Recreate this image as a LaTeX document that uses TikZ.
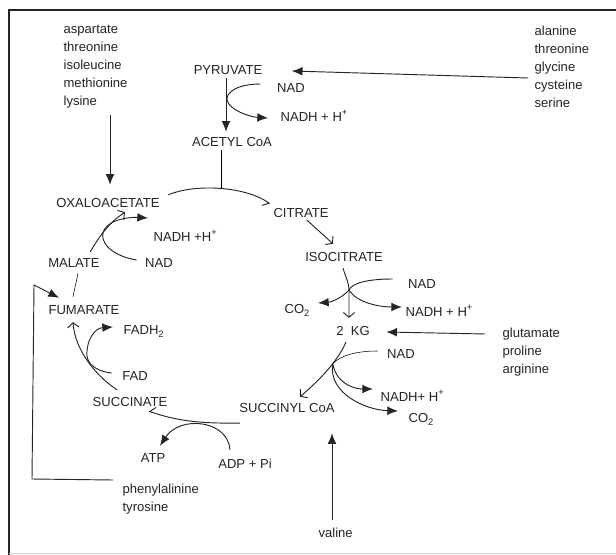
\documentclass[tikz,border=0pt]{standalone}
\usepackage{fontspec}
\setmainfont{Liberation Sans}
\usetikzlibrary{arrows.meta,calc}
\definecolor{ink}{HTML}{252525}
\newcommand\subs[1]{\raisebox{-0.45ex}{\fontsize{7}{8}\selectfont #1}}
\newcommand\sups[1]{\raisebox{0.9ex}{\fontsize{7}{8}\selectfont #1}}
\begin{document}
\begin{tikzpicture}[x=0.75pt,y=-0.75pt,
  every node/.style={font=\fontsize{9.8}{13.5}\selectfont, text=ink, inner sep=1pt},
  lab/.style={text height=6.9pt, text depth=0pt},
  labw/.style={lab, anchor=west},
  list/.style={align=left, anchor=north west},
  conn/.style={draw=ink, line width=0.7pt},
  tri/.style={conn, -{Latex[length=8pt,width=6.5pt]}},
  barb/.style={conn, -{Straight Barb[length=3.5pt,width=8.5pt]}},
  half/.style={conn, -{Straight Barb[length=3.5pt,width=9pt,right]}}
]
\useasboundingbox (0,0) rectangle (616,555);
\fill[white] (0,0) rectangle (616,555);
\draw[ink, line width=0.9pt] (9,555) -- (9,10) -- (616,10);
\draw[gray!35, line width=0.6pt] (9,553) -- (616,553);

% lists
\node[list] (asp) at (62,23) {aspartate\\threonine\\isoleucine\\methionine\\lysine};
\node[list] (ala) at (533,24) {alanine\\threonine\\glycine\\cysteine\\serine};
\node[list] (glu) at (501,326) {glutamate\\proline\\arginine};
\node[list] (phen) at (121,482) {phenylalinine\\tyrosine};
\node[list] (val) at (317,526) {valine};

% labels
\node[lab] (pyr) at (228,70) {PYRUVATE};
\node[lab] (nad1) at (291,88) {NAD};
\node[labw] (nadh1) at (279,117) {NADH + H\sups{+}};
\node[lab] (acetyl) at (232,142) {ACETYL CoA};
\node[lab] (oxa) at (108,203) {OXALOACETATE};
\node[lab] (cit) at (301,213) {CITRATE};
\node[lab] (iso) at (344,257) {ISOCITRATE};
\node[labw] (nadh4) at (152,237) {NADH +H\sups{+}};
\node[lab] (nad4) at (159,263) {NAD};
\node[lab] (mal) at (74,263) {MALATE};
\node[lab] (fum) at (84,310) {FUMARATE};
\node[labw] (fadh) at (122,330) {FADH\subs{2}};
\node[lab] (fad) at (135,376) {FAD};
\node[lab] (suc) at (130,402) {SUCCINATE};
\node[lab] (sca) at (287,408) {SUCCINYL CoA};
\node[lab] (atp) at (153,458) {ATP};
\node[lab] (adp) at (245,464) {ADP + Pi};
\node[labw] (co2a) at (283,309) {CO\subs{2}};
\node[lab] (nad2) at (422,284) {NAD};
\node[labw] (nadh2) at (404,312) {NADH + H\sups{+}};
\node[lab] (kg) at (353,331) {2~~KG};
\node[lab] (nad3) at (401,354) {NAD};
\node[labw] (nadh3) at (379,397) {NADH+ H\sups{+}};
\node[labw] (co2b) at (407,418) {CO\subs{2}};

% pyruvate -> acetyl CoA
\draw[tri] ($(pyr.south)+(-2,2)$) -- ($(acetyl.north)+(-6,-4)$);
\draw[tri] ($(nad1.west)+(-15,-4)$) .. controls (238,84) and (226,92) .. (227,100)
  .. controls (229,110) and (250,117) .. ($(nadh1.west)+(-11,1)$);
\draw[tri] ($(ala.north west)+(-5,54)$) -- ($(pyr.east)+(28,1)$);

% oxaloacetate -> citrate
\draw[half] ($(oxa.north east)+(7,-2)$) .. controls (197,183) and (247,187) .. coordinate[pos=0.5] (j1) ($(cit.north west)+(-2,-3)$);
\draw (j1 |- acetyl.south) ++(0,2) -- (j1);
\draw[tri] ($(asp.north west)+(48,92)$) -- ($(oxa.north)+(2,-12)$);

% citrate -> isocitrate
\draw[barb] ($(cit.south)+(6,1)$) -- ($(iso.north)+(-11,-7)$);

% isocitrate -> 2 KG
\coordinate (ib) at (349,290);
\draw[barb] ($(iso.south)+(-1,5)$) .. controls (346,278) and (349,283) .. (ib) -- ($(kg.north)+(-4,-7)$);
\draw[tri] ($(nad2.west)+(-14,-5)$) .. controls (368,279) and (352,283) .. (ib)
  .. controls (343,297) and (332,302) .. ($(co2a.east)+(7,-6)$);
\draw[tri] (ib) .. controls (356,302) and (378,307) .. ($(nadh2.west)+(-2,-5)$);
\draw[tri] ($(glu.north west)+(-16,8)$) -- ($(kg.east)+(15,1)$);

% 2 KG -> succinyl CoA
\draw[barb] ($(kg.south)+(-7,5)$) .. controls (338,360) and (322,378) .. coordinate[pos=0.4] (kb) ($(sca.north)+(13,-5)$);
\draw ($(nad3.west)+(-8,-3)$) .. controls (355,351) and (340,356) .. (kb);
\draw[tri] (kb) .. controls (336,382) and (352,389) .. ($(nadh3.west)+(-6,-8)$);
\draw[tri] (kb) .. controls (328,393) and (365,410) .. ($(co2b.west)+(-9,-7)$);
\draw[tri] ($(val.north west)+(15,-6)$) -- ($(sca.south)+(45,19)$);

% succinyl CoA -> succinate
\draw[half] ($(sca.south west)+(2,9)$) .. controls (215,423) and (185,424) .. ($(suc.south east)+(-20,3)$);
\draw[tri] ($(adp.north)+(-15,-8)$) .. controls (228,420) and (180,415) .. ($(atp.north)+(7,-6)$);

% succinate -> fumarate
\draw[barb] ($(suc.north)+(-13,-6)$) .. controls (95,375) and (75,350) .. ($(fum.south)+(-11,6)$);
\draw[tri] ($(fad.west)+(-9,-3)$) .. controls (100,372) and (88,366) .. (87,356)
  .. controls (86,340) and (95,328) .. ($(fadh.west)+(-9,-3)$);

% fumarate - malate
\draw ($(fum.north)+(-11,-7)$) -- ($(mal.south)+(4,4)$);

% malate -> oxaloacetate
\draw[barb] ($(mal.north east)+(-11,-5)$) .. controls (100,235) and (110,222) .. ($(oxa.south)+(17,3)$);
\draw[tri] ($(nad4.west)+(-7,-3)$) .. controls (112,256) and (98,242) .. (104,230)
  .. controls (110,219) and (130,217) .. ($(nadh4.west)+(-4,-19)$);

% phenylalinine, tyrosine -> fumarate
\coordinate (c1) at (32,479);
\coordinate (c2) at (34,285);
\draw[tri] ($(phen.north west)+(-8,-2)$) -- (c1) -- (c2) -- ($(fum.north west)+(12,-6)$);
\end{tikzpicture}
\end{document}
